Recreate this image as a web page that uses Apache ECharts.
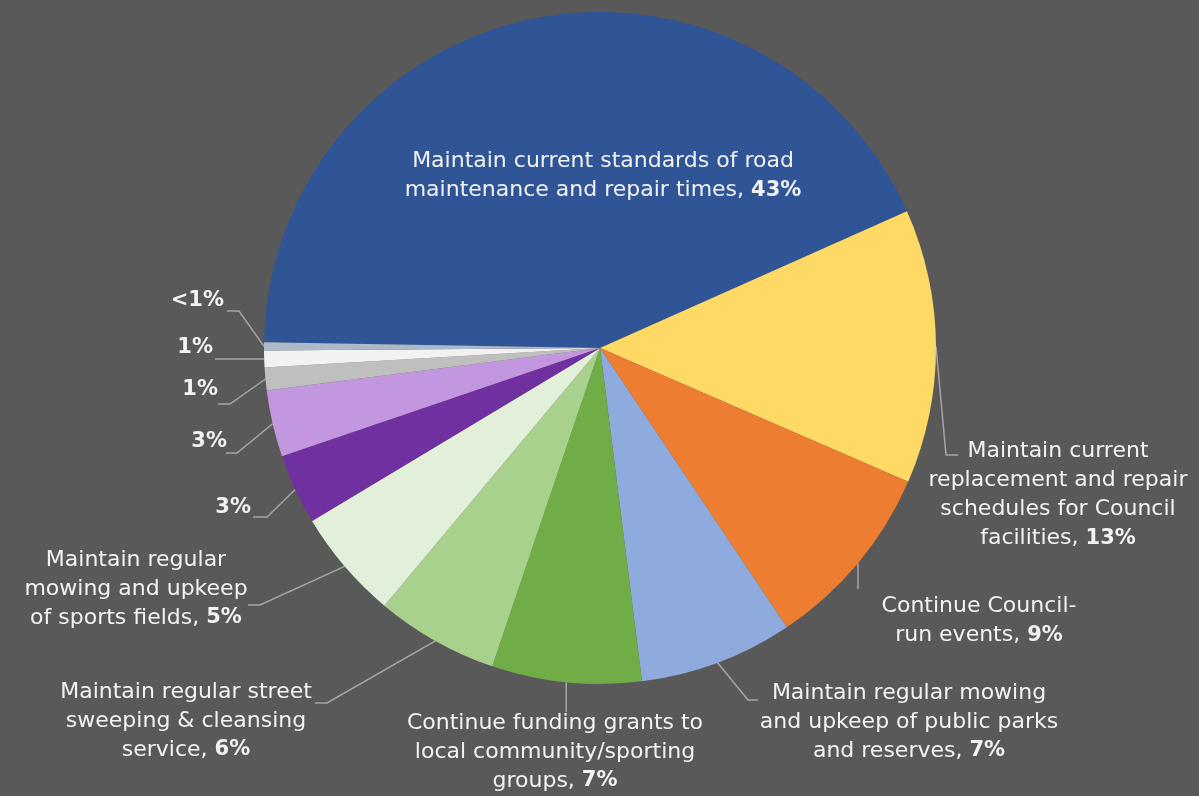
<!DOCTYPE html>
<html>
<head>
<meta charset="utf-8">
<title>Service priorities</title>
<script src="https://cdn.jsdelivr.net/npm/echarts@6/dist/echarts.min.js"></script>
<style>
  html, body { margin: 0; padding: 0; background: #595959; }
  #chart { width: 1199px; height: 796px; }
</style>
</head>
<body>
<div id="chart"></div>
<script>
// Share of responses for each service option (percent).
const categories = [
  'Maintain current standards of road\nmaintenance and repair times',
  'Maintain current\nreplacement and repair\nschedules for Council\nfacilities',
  'Continue Council-\nrun events',
  'Maintain regular mowing\nand upkeep of public parks\nand reserves',
  'Continue funding grants to\nlocal community/sporting\ngroups',
  'Maintain regular street\nsweeping & cleansing\nservice',
  'Maintain regular\nmowing and upkeep\nof sports fields',
  '', '', '', '', ''
];
const values = [43.1, 13.2, 9.1, 7.4, 7.2, 5.9, 5.3, 3.4, 3.2, 1.1, 0.8, 0.4];
const colors = [
  '#2f5597', '#ffd966', '#ed7d31', '#8faadc', '#70ad47', '#a9d18e',
  '#e2f0d9', '#7030a0', '#c297e0', '#bfbfbf', '#f2f2f2', '#adb9ca'
];

const total = values.reduce((a, b) => a + b, 0);
function pctText(v) {
  const p = v / total * 100;
  return p < 0.5 ? '<1%' : Math.round(p) + '%';
}

// Where each label sits, and the elbow of its leader line.
const labelPlacement = [
  { x: 603, y: 176, align: 'center' },
  { x: 1058, y: 495, align: 'center', bend: [946, 455], end: [958, 455] },
  { x: 979, y: 621, align: 'center', bend: null, endY: 589 },
  { x: 909, y: 722, align: 'center', bend: [748, 700], end: [758, 700] },
  { x: 555, y: 752, align: 'center', bend: null, endY: 712 },
  { x: 186, y: 721, align: 'center', bend: [327, 703], end: [315, 703] },
  { x: 136, y: 589, align: 'center', bend: [260, 605], end: [248, 605] },
  { x: 251, y: 508, align: 'right', bend: [267, 517], end: [253, 517] },
  { x: 227, y: 442, align: 'right', bend: [237, 453], end: [226, 453] },
  { x: 218, y: 390, align: 'right', bend: [230, 404], end: [218, 404] },
  { x: 213, y: 348, align: 'right', bend: null, end: [215, 359], flat: true },
  { x: 224, y: 301, align: 'right', bend: [239, 311], end: [227, 311] }
];

const FONT = 'DejaVu Sans';
const data = values.map((v, i) => ({
  name: categories[i] || ('item' + i),
  value: v,
  itemStyle: { color: colors[i] },
  label: i === 0 ? { position: 'inside' } : {},
  labelLine: { show: i !== 0 }
}));

const chart = echarts.init(document.getElementById('chart'), null, { renderer: 'canvas' });
chart.setOption({
  backgroundColor: '#595959',
  animation: false,
  series: [{
    type: 'pie',
    center: [600, 348],
    radius: [0, 336],
    startAngle: 179,
    clockwise: true,
    avoidLabelOverlap: false,
    data: data,
    itemStyle: { borderWidth: 0 },
    label: {
      show: true,
      position: 'outside',
      alignTo: 'none',
      color: '#f2f2f2',
      fontFamily: FONT,
      fontSize: 22,
      lineHeight: 29,
      align: 'center',
      formatter: function (p) {
        const name = categories[p.dataIndex];
        const pct = '{b|' + pctText(p.value) + '}';
        return name ? name + ', ' + pct : pct;
      },
      rich: {
        b: { fontFamily: FONT, fontWeight: 'bold', fontSize: 21, lineHeight: 29, color: '#f2f2f2' }
      }
    },
    labelLine: {
      show: true,
      length: 10,
      length2: 10,
      lineStyle: { color: '#a6a6a6', width: 1.5 }
    },
    labelLayout: function (params) {
      const pl = labelPlacement[params.dataIndex];
      const out = { x: pl.x, y: pl.y, align: pl.align, verticalAlign: 'middle' };
      const pts = params.labelLinePoints;
      if (pts && pts.length) {
        const start = pts[0];
        if (pl.bend) {
          out.labelLinePoints = [start, pl.bend, pl.end];
        } else if (pl.flat) {
          out.labelLinePoints = [start, pl.end, pl.end];
        } else {
          const e = [start[0], pl.endY];
          out.labelLinePoints = [start, e, e];
        }
      }
      return out;
    }
  }]
});
</script>
</body>
</html>
